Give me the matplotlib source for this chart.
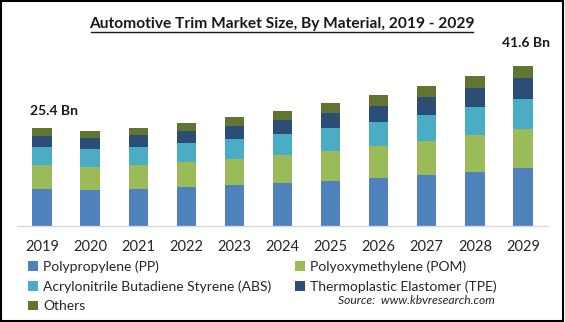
import matplotlib
matplotlib.use("Agg")
import matplotlib.pyplot as plt
from matplotlib.patches import Rectangle, Patch
import numpy as np

plt.rcParams['font.family'] = ['Lato', 'DejaVu Sans']

years = ["2019", "2020", "2021", "2022", "2023", "2024", "2025", "2026", "2027", "2028", "2029"]
pp = [9.7, 9.4, 9.7, 10.2, 10.6, 11.15, 11.75, 12.55, 13.3, 14.1, 15.1]
pom = [6.1, 5.9, 6.15, 6.4, 6.75, 7.25, 7.8, 8.3, 8.8, 9.6, 10.1]
abs_ = [4.75, 4.75, 4.67, 5.0, 5.2, 5.5, 5.95, 6.2, 6.75, 7.25, 7.8]
tpe = [2.85, 2.8, 3.1, 3.0, 3.45, 3.55, 3.9, 4.15, 4.65, 4.95, 5.45]
others = [2.0, 1.9, 1.8, 2.15, 2.25, 2.35, 2.6, 2.85, 2.85, 3.1, 3.15]
series_names = ["Polypropylene (PP)", "Polyoxymethylene (POM)",
                "Acrylonitrile Butadiene Styrene (ABS)", "Thermoplastic Elastomer (TPE)", "Others"]
colors = ["#4F81BD", "#9BBB59", "#4BACC6", "#2C4D75", "#5F7530"]
labels_first_last = ["25.4 Bn", "41.6 Bn"]

W, H = 565, 322
fig = plt.figure(figsize=(W / 100, H / 100), dpi=100)
ax = fig.add_axes([17 / W, (H - 226) / H, (548 - 17) / W, 177 / H])

x = np.arange(len(years))
bottom = np.zeros(len(years))
for vals, c in zip([pp, pom, abs_, tpe, others], colors):
    ax.bar(x, vals, bottom=bottom, width=0.4, color=c, zorder=2)
    bottom += np.array(vals)

ax.set_xlim(-0.52, len(years) - 0.48)
ax.set_ylim(0, 46)
ax.set_yticks([])
for s in ["top", "right", "left"]:
    ax.spines[s].set_visible(False)
ax.spines["bottom"].set_color("#d9d9d9")
ax.spines["bottom"].set_linewidth(1.0)
ax.set_xticks(x)
ax.set_xticklabels(years, fontsize=10.5, color="#262626")
ax.tick_params(axis="x", length=0, pad=10)

ax.annotate(labels_first_last[0], xy=(x[0], bottom[0]), xytext=(-12, 17),
            textcoords="offset pixels", ha="left", va="center",
            fontsize=10, fontweight="bold", color="#1a1a1a")
ax.annotate(labels_first_last[1], xy=(x[-1], bottom[-1]), xytext=(3, 23),
            textcoords="offset pixels", ha="center", va="center",
            fontsize=10, fontweight="bold", color="#1a1a1a")

fig.text(282 / W, 1 - 24 / H, "Automotive Trim Market Size, By Material, 2019 - 2029",
         ha="center", va="center", fontsize=11.2, fontweight="bold", color="#1a1a1a")
# underline
fig.add_artist(plt.Line2D([91 / W, 473 / W], [1 - 32 / H, 1 - 32 / H], color="#1a1a1a", lw=1.0))

handles = [Patch(facecolor=c, edgecolor="none") for c in colors]
common = dict(loc="upper left", frameon=False, fontsize=10, handlelength=0.7, handleheight=0.7,
              handletextpad=0.4, labelspacing=0.55, borderaxespad=0, borderpad=0)
leg1 = fig.legend([handles[0], handles[2], handles[4]], [series_names[0], series_names[2], series_names[4]],
                  bbox_to_anchor=(28 / W, 1 - 260 / H), **common)
leg2 = fig.legend([handles[1], handles[3]], [series_names[1], series_names[3]],
                  bbox_to_anchor=(295 / W, 1 - 260 / H), **common)
for t in leg1.get_texts() + leg2.get_texts():
    t.set_color("#262626")

fig.text(416 / W, 1 - 301 / H, "Source:  www.kbvresearch.com", ha="center", va="center",
         fontsize=8.7, style="italic", color="#262626")

fig.add_artist(Rectangle((0.001, 0.002), 0.996, 0.995, transform=fig.transFigure,
                         fill=False, edgecolor="black", lw=1.5))

fig.savefig("out.png", dpi=100)
